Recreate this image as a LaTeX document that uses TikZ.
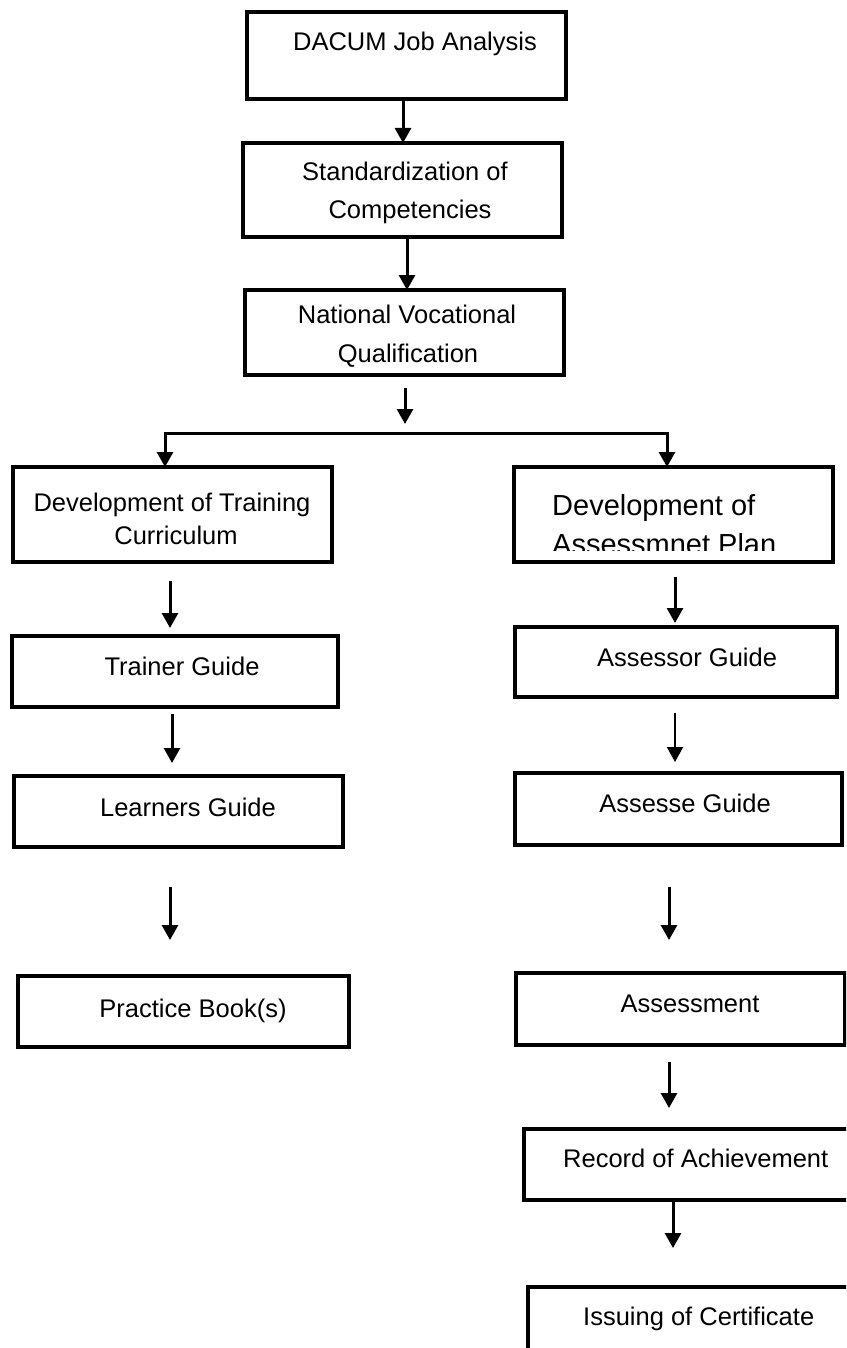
\documentclass[tikz,border=0pt]{standalone}
\usepackage{fontspec}
\setmainfont{Liberation Sans}
\usetikzlibrary{arrows.meta}
\begin{document}
\begin{tikzpicture}[x=1pt,y=-1pt,
  box/.style={draw, line width=3.4pt, inner sep=0pt, outer sep=0pt, rectangle},
  lbl/.style={font=\fontsize{25.5}{30}\selectfont, inner sep=0pt, anchor=base},
  lblw/.style={lbl, anchor=base west},
  biglbl/.style={font=\fontsize{29}{34}\selectfont, inner sep=0pt, anchor=base west},
  arr/.style={line width=3pt, -{Triangle[width=16pt,length=15pt]}},
  thinarr/.style={line width=2pt, -{Triangle[width=16pt,length=15pt]}},
  twoarr/.style={line width=3pt, {Triangle[width=16pt,length=15pt]}-{Triangle[width=16pt,length=15pt]}}]
\clip (0,0) rectangle (846,1348);
\fill[white] (0,0) rectangle (846,1348);

% boxes
\node[box, minimum width=319pt, minimum height=87pt] (b1) at (406.5,55.5) {};
\node[box, minimum width=319pt, minimum height=94pt] (b2) at (402.5,190) {};
\node[box, minimum width=319pt, minimum height=85pt] (b3) at (404.5,332.5) {};
\node[box, minimum width=319pt, minimum height=95pt] (b4) at (172.5,514.5) {};
\node[box, minimum width=319pt, minimum height=95pt] (b5) at (673.5,514.5) {};
\node[box, minimum width=326pt, minimum height=71pt] (b6) at (175,671.5) {};
\node[box, minimum width=322pt, minimum height=70pt] (b7) at (676,662) {};
\node[box, minimum width=329pt, minimum height=71pt] (b8) at (178.5,811.5) {};
\node[box, minimum width=327pt, minimum height=72pt] (b9) at (678.5,809) {};
\node[box, minimum width=331pt, minimum height=71pt] (b10) at (183.5,1011.5) {};
\node[box, minimum width=329pt, minimum height=72pt] (b11) at (680.5,1009) {};
\node[box, minimum width=346pt, minimum height=71pt] (b12) at (697,1164.5) {};
\node[box, minimum width=342pt, minimum height=93pt] (b13) at (699,1333.5) {};

% texts
\node[lbl] (t1) at (415,51) {DACUM Job Analysis};
\node[lbl] (t2a) at (405,181) {Standardization of};
\node[lbl] (t2b) at (410,219) {Competencies};
\node[lbl] (t3a) at (407,323) {National Vocational};
\node[lbl] (t3b) at (408,362) {Qualification};
\node[lbl] (t4a) at (172,511) {Development of Training};
\node[lbl] (t4b) at (176,544) {Curriculum};
\begin{scope}
  \clip (514,467) rectangle (833,550);
  \node[biglbl] (t5a) at (552,515) {Development of};
  \node[biglbl] (t5b) at (552,554) {Assessmnet Plan};
\end{scope}
\node[lbl] (t6) at (182,675) {Trainer Guide};
\node[lbl] (t7) at (687,666) {Assessor Guide};
\node[lbl] (t8) at (188,816) {Learners Guide};
\node[lbl] (t9) at (685,812) {Assesse Guide};
\node[lbl] (t10) at (193,1017) {Practice Book(s)};
\node[lbl] (t11) at (690,1012) {Assessment};
\node[lblw] (t12) at (563,1167) {Record of Achievement};
\node[lblw] (t13) at (583,1325) {Issuing of Certificate};

% connector coordinates
\coordinate (x1) at (403,0);
\coordinate (x2) at (407,0);
\coordinate (a3s) at (405,388);
\coordinate (a3e) at (405,424);
\coordinate (brl) at (165,433);
\coordinate (brr) at (667,433);
\coordinate (a4ls) at (170,581);
\coordinate (a4le) at (170,628);
\coordinate (a4rs) at (675,577);
\coordinate (a4re) at (675,623);
\coordinate (a5ls) at (172,714);
\coordinate (a5le) at (172,763);
\coordinate (a5rs) at (675,713);
\coordinate (a5re) at (675,762);
\coordinate (a6ls) at (170,887);
\coordinate (a6le) at (170,940);
\coordinate (a6rs) at (669,887);
\coordinate (a6re) at (669,940);
\coordinate (a7s) at (669,1062);
\coordinate (a7e) at (669,1108);
\coordinate (x8) at (673,0);
\coordinate (a8e) at (673,1248);

% connectors
\draw[arr] (b1.south -| x1) -- (b2.north -| x1);
\draw[arr] (b2.south -| x2) -- (b3.north -| x2);
\draw[arr] (a3s) -- (a3e);
\draw[twoarr] (b4.north -| brl) -- (brl) -- (brr) -- (b5.north -| brr);
\draw[arr] (a4ls) -- (a4le);
\draw[arr] (a4rs) -- (a4re);
\draw[arr] (a5ls) -- (a5le);
\draw[thinarr] (a5rs) -- (a5re);
\draw[arr] (a6ls) -- (a6le);
\draw[arr] (a6rs) -- (a6re);
\draw[arr] (a7s) -- (a7e);
\draw[arr] (b12.south -| x8) -- (a8e);
\end{tikzpicture}
\end{document}
